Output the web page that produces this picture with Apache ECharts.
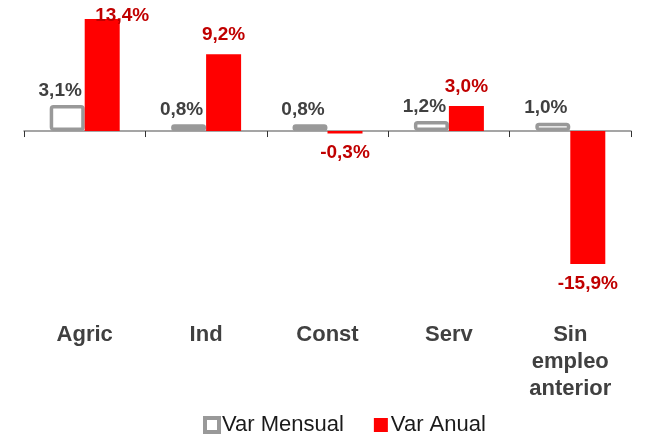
<!DOCTYPE html>
<html>
<head>
<meta charset="utf-8">
<script src="https://cdn.jsdelivr.net/npm/echarts@6/dist/echarts.min.js"></script>
<style>
  html, body { margin: 0; padding: 0; background: #fff; }
  #chart { width: 645px; height: 437px; }
</style>
</head>
<body>
<div id="chart"></div>
<script>
// datos
var categorias = ['Agric', 'Ind', 'Const', 'Serv', 'Sin\nempleo\nanterior'];
var varMensual = [3.1, 0.8, 0.8, 1.2, 1.0];
var varAnual = [13.4, 9.2, -0.3, 3.0, -15.9];

var fmt = function (p) {
  return p.value.toFixed(1).replace('.', ',') + '%';
};

var chart = echarts.init(document.getElementById('chart'));
var option = {
  animation: false,
  textStyle: { fontFamily: 'Liberation Sans, Arial, sans-serif' },
  grid: { top: 14, bottom: 172.2, left: 24, right: 14, containLabel: false, outerBoundsMode: 'none' },
  legend: {
    left: 198,
    bottom: -4,
    icon: 'rect',
    itemWidth: 14,
    itemHeight: 14,
    itemGap: 30,
    textStyle: { fontSize: 22, color: '#1a1a1a', padding: [0, 0, 0, -2] },
    data: [
      { name: 'Var Mensual', itemStyle: { borderWidth: 4 } },
      { name: 'Var Anual' }
    ]
  },
  xAxis: [
    {
      type: 'category',
      data: categorias,
      axisLine: { onZero: true, lineStyle: { color: '#888', width: 1.5 } },
      axisTick: { show: true, length: 6, lineStyle: { color: '#333' } },
      axisLabel: { show: false }
    },
    {
      // etiquetas de categoria, debajo del grafico
      type: 'category',
      data: categorias,
      position: 'bottom',
      axisLine: { show: false, onZero: false },
      axisTick: { show: false },
      axisLabel: {
        margin: 57,
        fontSize: 22,
        fontWeight: 'bold',
        color: '#404040',
        lineHeight: 27,
        interval: 0
      }
    }
  ],
  yAxis: {
    type: 'value',
    min: -16,
    max: 14,
    interval: 2,
    show: false,
    splitLine: { show: false }
  },
  series: [
    {
      name: 'Var Mensual',
      type: 'bar',
      barWidth: 35,
      barGap: '0%',
      itemStyle: { color: '#fff', borderColor: '#999', borderWidth: 3.5, borderRadius: 2 },
      label: {
        show: true,
        position: 'top',
        distance: 5,
        offset: [-7, 0],
        fontSize: 19,
        fontWeight: 'bold',
        color: '#404040',
        formatter: fmt
      },
      data: varMensual
    },
    {
      name: 'Var Anual',
      type: 'bar',
      barWidth: 35,
      itemStyle: { color: '#ff0000' },
      label: {
        show: true,
        offset: [8, 0],
        fontSize: 19,
        fontWeight: 'bold',
        color: '#c00000',
        formatter: fmt
      },
      labelLayout: function (p) {
        // la etiqueta de la barra mas alta se sale por arriba
        if (p.labelRect.y < 6) {
          return { dx: 20, dy: 6 - p.labelRect.y };
        }
        return {};
      },
      data: varAnual.map(function (v) {
        return {
          value: v,
          label: { position: v < 0 ? 'bottom' : 'top', distance: 10 }
        };
      })
    }
  ]
};
chart.setOption(option);
</script>
</body>
</html>
